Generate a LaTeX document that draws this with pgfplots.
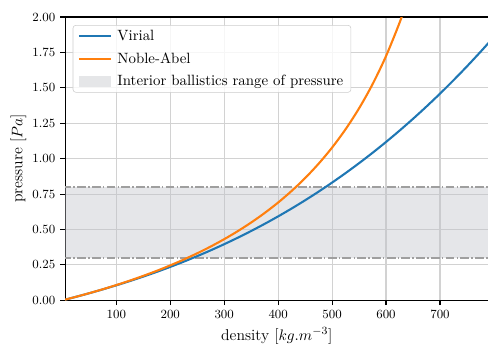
\documentclass[border=0pt]{standalone}
\usepackage{pgfplots}
\pgfplotsset{compat=1.18}
\usetikzlibrary{calc}
\definecolor{mblue}{HTML}{1F77B4}
\definecolor{morange}{HTML}{FF7F0E}
\definecolor{bandc}{RGB}{190,193,200}
\begin{document}
\begin{tikzpicture}
\begin{axis}[
  scale only axis, width=304.56pt, height=203.76pt,
  xmin=5, xmax=790, ymin=0, ymax=2,
  xtick={100,200,300,400,500,600,700},
  ytick={0,0.25,0.5,0.75,1,1.25,1.5,1.75,2},
  yticklabel style={/pgf/number format/.cd, fixed, fixed zerofill, precision=2},
  tick label style={font=\fontsize{9}{11}\selectfont},
  label style={font=\fontsize{11.3}{13}\selectfont},
  xlabel={density [$kg.m^{-3}$]},
  ylabel={pressure [$Pa$]},
  ylabel style={xshift=0pt, yshift=-2.5pt},
  xtick pos=left, ytick pos=left,
  tick align=outside, major tick length=3.5pt,
  tick style={line width=0.8pt, black},
  axis line style={line width=0.8pt},
  grid=major, grid style={line width=0.8pt, color=gray!35},
  legend style={at={(0,1)}, anchor=north west, xshift=5.5pt, yshift=-5.8pt,
    draw=gray!40, rounded corners=2pt, fill=white, fill opacity=0.8, text opacity=1,
    font=\fontsize{10.7}{13}\selectfont, cells={anchor=west}, row sep=3pt,
    inner xsep=3.5pt, inner ysep=1.5pt},
  legend image code/.code={\draw[#1] (0pt,0pt) -- (23pt,0pt); \path (25pt,0pt);},
]
\addplot[fill=bandc, fill opacity=0.4, draw=none, forget plot]
  coordinates {(0,0.3) (800,0.3) (800,0.8) (0,0.8) (0,0.3)};
\addplot[gray!75, line width=1pt, dash pattern=on 6.4pt off 1.6pt on 1pt off 1.6pt, forget plot]
  coordinates {(0,0.3) (800,0.3)};
\addplot[gray!75, line width=1pt, dash pattern=on 6.4pt off 1.6pt on 1pt off 1.6pt, forget plot]
  coordinates {(0,0.8) (800,0.8)};
\addplot[mblue, line width=1.5pt, smooth] coordinates {
(0,0) (25,0.02458) (50,0.05038) (75,0.07751) (100,0.10604) (125,0.13608)
(150,0.16772) (175,0.20105) (200,0.23617) (225,0.27317) (250,0.31215)
(275,0.35320) (300,0.39641) (325,0.44189) (350,0.48972) (375,0.53999)
(400,0.59280) (425,0.64826) (450,0.70643) (475,0.76744) (500,0.83136)
(525,0.89830) (550,0.96834) (575,1.04157) (600,1.11811) (625,1.19803)
(650,1.28144) (675,1.36842) (700,1.45907) (725,1.55349) (750,1.65177)
(775,1.75400) (790,1.81728)};
\addlegendentry{Virial}
\addplot[morange, line width=1.5pt, smooth] coordinates {
(0,0) (25,0.0247) (50,0.0508) (75,0.0785) (100,0.1080) (125,0.1393)
(150,0.1728) (175,0.2085) (200,0.2468) (225,0.2879) (250,0.3322)
(275,0.3800) (300,0.4318) (325,0.4881) (350,0.5495) (375,0.6167)
(400,0.6906) (425,0.7724) (450,0.8631) (475,0.9646) (500,1.0787)
(525,1.2079) (550,1.3556) (575,1.5259) (600,1.7246) (625,1.9592) (640,2.1215)};
\addlegendentry{Noble-Abel}
\addlegendimage{legend image code/.code={\path[fill=bandc, fill opacity=0.4, draw=none, sharp corners] (0pt,-4pt) rectangle (23pt,4pt); \path (25pt,0pt);}}
\addlegendentry{Interior ballistics range of pressure}
\node[anchor=south west, inner sep=0pt, yshift=2pt, font=\fontsize{9}{11}\selectfont] at (rel axis cs:0,1) {$\times10^{9}$};
\coordinate (bl) at (rel axis cs:0,0);
\coordinate (tr) at (rel axis cs:1,1);
\end{axis}
\pgfresetboundingbox
\path[use as bounding box] ($(bl)+(-46.8pt,-33.12pt)$) rectangle ($(tr)+(-0.4pt,12.24pt)$);
\end{tikzpicture}
\end{document}
